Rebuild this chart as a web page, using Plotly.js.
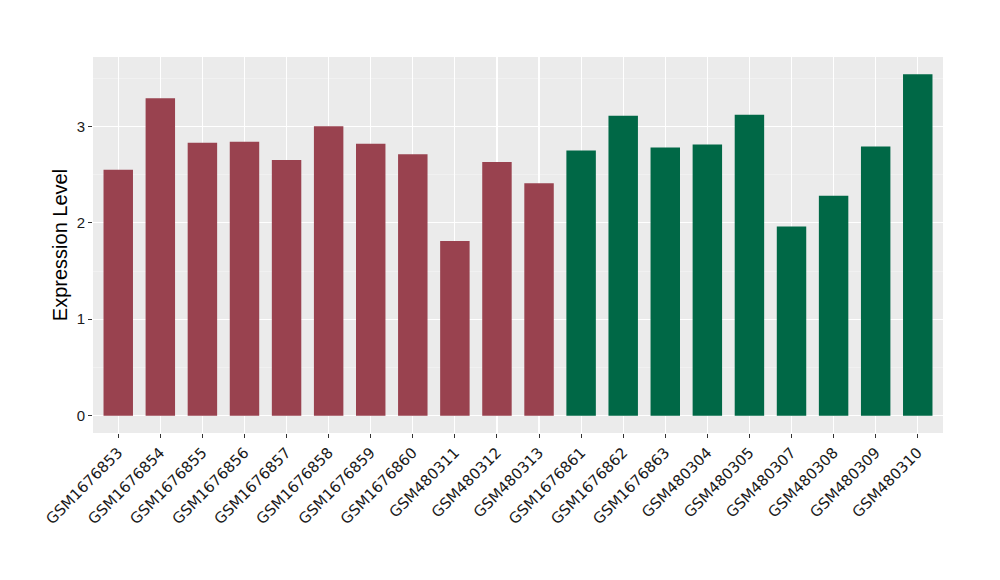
<!DOCTYPE html>
<html>
<head>
<meta charset="utf-8">
<script src="https://cdn.plot.ly/plotly-3.0.1.min.js"></script>
<style>html,body{margin:0;padding:0;background:#fff;}#chart{width:1000px;height:580px;}</style>
</head>
<body>
<div id="chart"></div>
<script>
const samples = ["GSM1676853","GSM1676854","GSM1676855","GSM1676856","GSM1676857","GSM1676858","GSM1676859","GSM1676860","GSM480311","GSM480312","GSM480313","GSM1676861","GSM1676862","GSM1676863","GSM480304","GSM480305","GSM480307","GSM480308","GSM480309","GSM480310"];
const values = [2.55,3.29,2.83,2.84,2.65,3.00,2.82,2.71,1.81,2.63,2.41,2.75,3.11,2.78,2.81,3.12,1.96,2.28,2.79,3.54];
const groups = ["A","A","A","A","A","A","A","A","A","A","A","B","B","B","B","B","B","B","B","B"];
const groupColors = {A:"#99424F", B:"#006846"};
const yTicks = [0,1,2,3];

const trace = {
  type: "bar",
  x: samples,
  y: values,
  marker: {color: groups.map(g => groupColors[g])},
  hoverinfo: "x+y"
};

const layout = {
  width: 1000, height: 580,
  margin: {l: 93, r: 57, t: 57, b: 147},
  paper_bgcolor: "#ffffff",
  plot_bgcolor: "#EBEBEB",
  bargap: 0.3,
  showlegend: false,
  font: {family: "Liberation Sans, Arial, sans-serif", color: "#000"},
  xaxis: {
    type: "category",
    range: [-0.6, samples.length - 0.4],
    showgrid: true, gridcolor: "#ffffff", gridwidth: 1.2,
    zeroline: false, showline: false,
    ticks: "outside", ticklen: 4, tickcolor: "#333333", tickwidth: 1,
    tickangle: -45,
    tickfont: {family: "DejaVu Sans, sans-serif", size: 15, color: "#1a1a1a"},
    fixedrange: true
  },
  yaxis: {
    range: [-0.179, 3.718],
    tickvals: yTicks,
    ticktext: yTicks.map(String),
    showgrid: true, gridcolor: "#ffffff", gridwidth: 1.2,
    minor: {dtick: 0.5, tick0: 0, showgrid: true, gridcolor: "#F5F5F5", gridwidth: 0.6, ticks: ""},
    zeroline: false, showline: false,
    ticks: "outside", ticklen: 4, tickcolor: "#333333", tickwidth: 1,
    tickfont: {size: 15, color: "#1a1a1a"},
    title: {text: "Expression Level", font: {size: 20, color: "#000"}, standoff: 3},
    fixedrange: true
  }
};

Plotly.newPlot("chart", [trace], layout, {displayModeBar: false, staticPlot: true});
</script>
</body>
</html>
